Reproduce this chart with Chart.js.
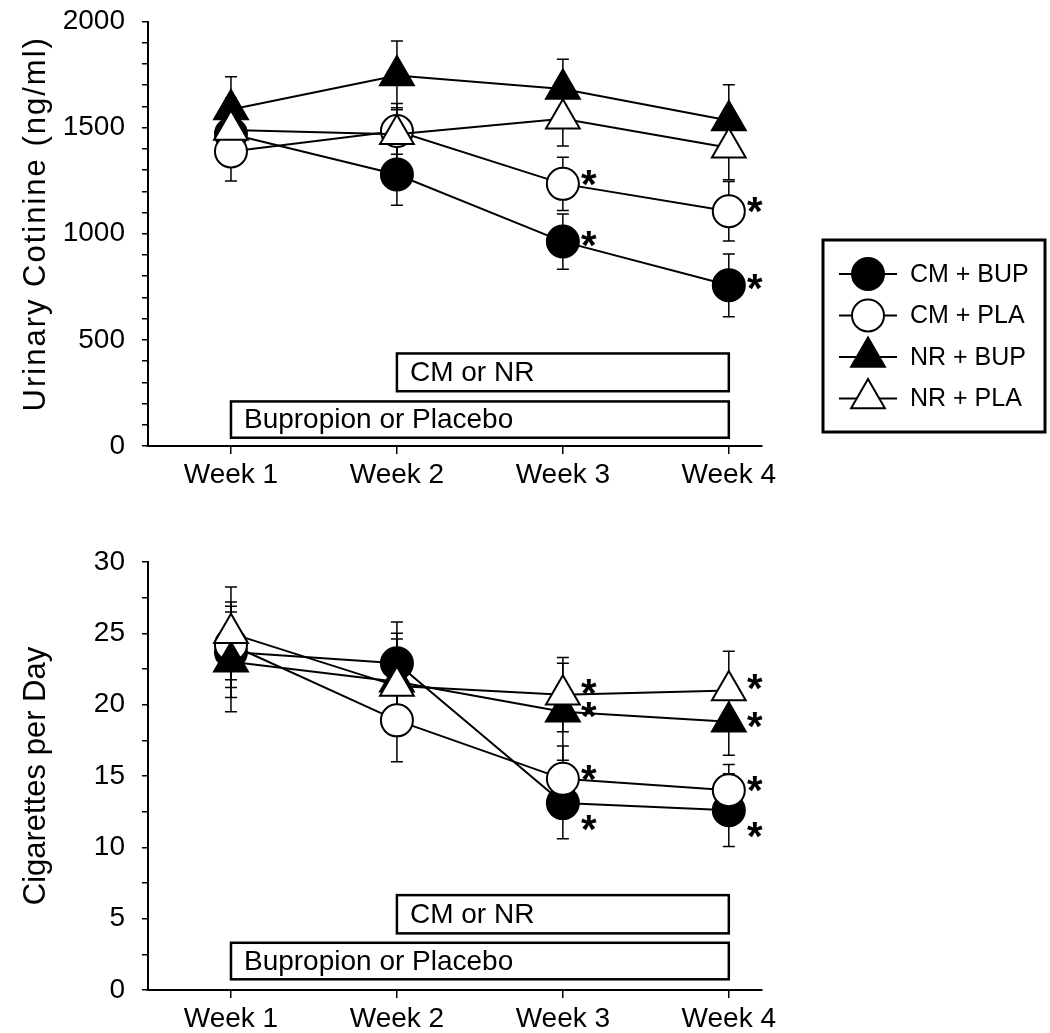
<!DOCTYPE html>
<html>
<head>
<meta charset="utf-8">
<script src="https://cdn.jsdelivr.net/npm/chart.js@4.4.1/dist/chart.umd.min.js"></script>
<style>
  html, body { margin: 0; padding: 0; background: #fff; }
  #wrap { position: relative; width: 1050px; height: 1033px; }
  #top { position: absolute; left: 0; top: 0; }
  #bottom { position: absolute; left: 0; top: 500px; }
</style>
</head>
<body>
<div id="wrap">
  <canvas id="top" width="1050" height="500"></canvas>
  <canvas id="bottom" width="1050" height="533"></canvas>
</div>
<script>
// ---- data ----
const weeks = ['Week 1', 'Week 2', 'Week 3', 'Week 4'];
const groups = ['CM + BUP', 'CM + PLA', 'NR + BUP', 'NR + PLA'];

// urinary cotinine (ng/ml), mean and SEM
const cotCmBup = [1470, 1279, 963, 757];
const cotCmBupSem = [140, 145, 130, 148];
const cotCmPla = [1388, 1484, 1235, 1106];
const cotCmPlaSem = [140, 110, 125, 140];
const cotNrBup = [1585, 1746, 1682, 1534];
const cotNrBupSem = [155, 162, 140, 168];
const cotNrPla = [1489, 1469, 1542, 1405];
const cotNrPlaSem = [150, 145, 128, 150];

// cigarettes per day, mean and SEM
const cigCmBup = [23.7, 22.9, 13.1, 12.6];
const cigCmBupSem = [3.2, 2.9, 2.5, 2.55];
const cigCmPla = [24.2, 18.9, 14.8, 14.0];
const cigCmPlaSem = [3.0, 2.9, 2.3, 1.8];
const cigNrBup = [23.0, 21.6, 19.5, 18.8];
const cigNrBupSem = [3.5, 3.4, 3.4, 2.35];
const cigNrPla = [25.0, 21.3, 20.7, 21.0];
const cigNrPlaSem = [3.25, 3.3, 2.6, 2.75];

// significance marks (1 = asterisk)
const cotStarsCm = [0, 0, 1, 1];
const cotStarsNr = [0, 0, 0, 0];
const cigStars = [0, 0, 1, 1];

// treatment phase bars
const phaseLabels = ['CM or NR', 'Bupropion or Placebo'];
const phaseFrom = [2, 1];
const phaseTo = [4, 4];

// ---- styling ----
const FONT = "'Liberation Sans', Arial, sans-serif";
const markers = [
  { style: 'circle', fill: '#000' },
  { style: 'circle', fill: '#fff' },
  { style: 'triangle', fill: '#000' },
  { style: 'triangle', fill: '#fff' },
];
const drawOrder = [3, 2, 1, 0];

function markerRadius(style) { return style === 'circle' ? 16 : 19.5; }

function drawMarker(ctx, style, fill, x, y) {
  const r = markerRadius(style);
  ctx.beginPath();
  if (style === 'circle') {
    ctx.arc(x, y, r, 0, Math.PI * 2);
  } else {
    ctx.moveTo(x, y - r);
    ctx.lineTo(x + r * 0.866, y + r / 2);
    ctx.lineTo(x - r * 0.866, y + r / 2);
    ctx.closePath();
  }
  ctx.fillStyle = fill;
  ctx.fill();
  ctx.lineWidth = 2;
  ctx.strokeStyle = '#000';
  ctx.stroke();
}

const errorBars = {
  id: 'errorBars',
  beforeDatasetsDraw(chart) {
    const { ctx, scales: { x, y } } = chart;
    ctx.save();
    ctx.strokeStyle = '#000';
    ctx.lineWidth = 1.5;
    chart.data.datasets.forEach(ds => {
      ds.data.forEach((p, i) => {
        const px = x.getPixelForValue(p.x);
        const hi = y.getPixelForValue(p.y + ds.sem[i]);
        const lo = y.getPixelForValue(p.y - ds.sem[i]);
        ctx.beginPath();
        ctx.moveTo(px, hi); ctx.lineTo(px, lo);
        ctx.moveTo(px - 6, hi); ctx.lineTo(px + 6, hi);
        ctx.moveTo(px - 6, lo); ctx.lineTo(px + 6, lo);
        ctx.stroke();
      });
    });
    ctx.restore();
  },
  afterDatasetsDraw(chart) {
    const { ctx, scales: { x, y } } = chart;
    ctx.save();
    ctx.fillStyle = '#000';
    ctx.font = 'bold 40px ' + FONT;
    ctx.textAlign = 'center';
    ctx.textBaseline = 'alphabetic';
    chart.data.datasets.forEach(ds => {
      ds.data.forEach((p, i) => {
        if (!ds.stars[i]) return;
        const px = x.getPixelForValue(p.x) + 26;
        const py = y.getPixelForValue(p.y) + ds.starDy;
        ctx.fillText('*', px, py + 23);
      });
    });
    ctx.restore();
  },
};

const phaseBars = {
  id: 'phaseBars',
  beforeDatasetsDraw(chart, args, opts) {
    const { ctx, scales: { x, y } } = chart;
    ctx.save();
    phaseLabels.forEach((label, i) => {
      const left = x.getPixelForValue(phaseFrom[i]);
      const right = x.getPixelForValue(phaseTo[i]);
      const top = y.getPixelForValue(opts.high[i]);
      const bot = y.getPixelForValue(opts.low[i]);
      ctx.fillStyle = '#fff';
      ctx.fillRect(left, top, right - left, bot - top);
      ctx.lineWidth = 2.5;
      ctx.strokeStyle = '#000';
      ctx.strokeRect(left, top, right - left, bot - top);
      ctx.fillStyle = '#000';
      ctx.font = '28px ' + FONT;
      ctx.textAlign = 'left';
      ctx.textBaseline = 'middle';
      ctx.fillText(label, left + 13, (top + bot) / 2 + 1);
    });
    ctx.restore();
  },
};

// y-axis title drawn by hand so the letter spacing can follow the original
const axisTitle = {
  id: 'axisTitle',
  afterDraw(chart, args, opts) {
    const { ctx, chartArea } = chart;
    ctx.save();
    ctx.translate(36, (chartArea.top + chartArea.bottom) / 2 + opts.shift);
    ctx.rotate(-Math.PI / 2);
    ctx.fillStyle = '#000';
    ctx.font = opts.size + 'px ' + FONT;
    ctx.letterSpacing = opts.spacing + 'px';
    ctx.textAlign = 'center';
    ctx.textBaseline = 'middle';
    ctx.fillText(opts.text, 0, 0);
    ctx.restore();
  },
};

const boxLegend = {
  id: 'boxLegend',
  afterDraw(chart, args, opts) {
    if (!opts.show) return;
    const ctx = chart.ctx;
    ctx.save();
    ctx.lineWidth = 3;
    ctx.strokeStyle = '#000';
    ctx.strokeRect(823, 240, 222, 192);
    groups.forEach((g, i) => {
      const cy = 274 + i * 41.5;
      ctx.beginPath();
      ctx.moveTo(839, cy); ctx.lineTo(897, cy);
      ctx.lineWidth = 2;
      ctx.strokeStyle = '#000';
      ctx.stroke();
      drawMarker(ctx, markers[i].style, markers[i].fill, 868, cy);
      ctx.fillStyle = '#000';
      ctx.font = '25px ' + FONT;
      ctx.textAlign = 'left';
      ctx.textBaseline = 'middle';
      ctx.fillText(g, 910, cy + 1);
    });
    ctx.restore();
  },
};

function makeDatasets(means, sems, stars, starDy) {
  return means.map((vals, k) => ({
    label: groups[k],
    data: vals.map((v, i) => ({ x: i + 1, y: v })),
    sem: sems[k],
    stars: stars[k],
    starDy: starDy[k],
    order: drawOrder[k],
    borderColor: '#000',
    borderWidth: 2,
    fill: false,
    tension: 0,
    pointStyle: markers[k].style,
    pointRadius: markerRadius(markers[k].style),
    pointHoverRadius: markerRadius(markers[k].style),
    pointBackgroundColor: markers[k].fill,
    pointBorderColor: '#000',
    pointBorderWidth: 2,
    clip: false,
  }));
}

function makeChart(el, panel) {
  return new Chart(el, {
    type: 'line',
    data: { datasets: panel.datasets },
    plugins: [errorBars, phaseBars, axisTitle, boxLegend],
    options: {
      responsive: false,
      animation: false,
      events: [],
      layout: { padding: { top: panel.padTop, right: 288, left: 0, bottom: 0 } },
      plugins: {
        legend: { display: false },
        tooltip: { enabled: false },
        phaseBars: { low: panel.boxLow, high: panel.boxHigh },
        axisTitle: { text: panel.title, size: 31, spacing: panel.titleSpacing, shift: panel.titleShift },
        boxLegend: { show: panel.legend },
      },
      scales: {
        x: {
          type: 'linear',
          min: 0.5,
          max: 4.2,
          border: { color: '#000', width: 2 },
          grid: { drawOnChartArea: false, color: '#000', tickLength: 8, lineWidth: 1.5 },
          afterBuildTicks: s => { s.ticks = weeks.map((w, i) => ({ value: i + 1 })); },
          ticks: {
            autoSkip: false,
            maxRotation: 0,
            color: '#000',
            padding: 4,
            font: { family: FONT, size: 28 },
            callback: v => weeks[v - 1],
          },
          afterFit: s => { s.height = panel.xHeight; s.paddingLeft = 0; s.paddingRight = 0; },
        },
        y: {
          min: 0,
          max: panel.yMax,
          border: { color: '#000', width: 2 },
          grid: { drawOnChartArea: false, color: '#000', tickLength: 6, lineWidth: 1.5 },
          ticks: {
            stepSize: panel.minorStep,
            autoSkip: false,
            color: '#000',
            padding: 17,
            font: { family: FONT, size: 28 },
            callback: v => (v % panel.majorStep === 0 ? v : ''),
          },
          afterFit: s => { s.width = 148; s.paddingTop = 0; s.paddingBottom = 0; },
        },
      },
    },
  });
}

makeChart(document.getElementById('top'), {
  title: 'Urinary Cotinine (ng/ml)',
  titleSpacing: 2, titleShift: -10,
  yMax: 2000, minorStep: 100, majorStep: 500,
  padTop: 18, xHeight: 54,
  boxLow: [258, 39], boxHigh: [436, 210],
  legend: true,
  datasets: makeDatasets(
    [cotCmBup, cotCmPla, cotNrBup, cotNrPla],
    [cotCmBupSem, cotCmPlaSem, cotNrBupSem, cotNrPlaSem],
    [cotStarsCm, cotStarsCm, cotStarsNr, cotStarsNr],
    [-6, -9, -8, -8]
  ),
});

makeChart(document.getElementById('bottom'), {
  title: 'Cigarettes per Day',
  titleSpacing: 0, titleShift: 0,
  yMax: 30, minorStep: 2.5, majorStep: 5,
  padTop: 62, xHeight: 43,
  boxLow: [3.97, 0.75], boxHigh: [6.65, 3.31],
  legend: false,
  datasets: makeDatasets(
    [cigCmBup, cigCmPla, cigNrBup, cigNrPla],
    [cigCmBupSem, cigCmPlaSem, cigNrBupSem, cigNrPlaSem],
    [cigStars, cigStars, cigStars, cigStars],
    [17, -9, -5, -11]
  ),
});
</script>
</body>
</html>
